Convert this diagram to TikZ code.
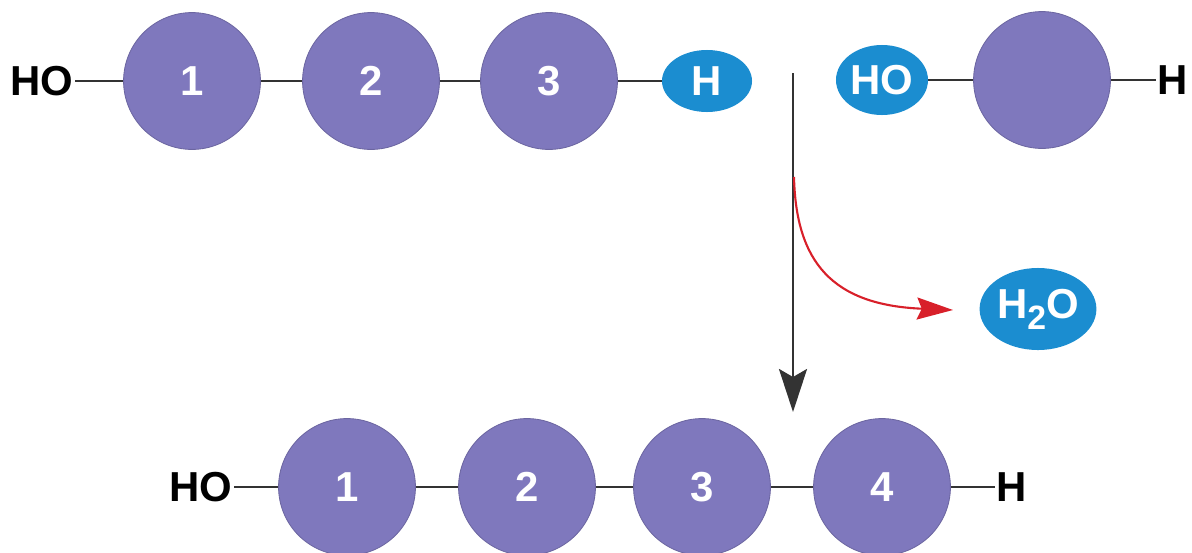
\documentclass[tikz,border=0pt]{standalone}
\usepackage{fontspec}
\setmainfont{Liberation Sans}
\usetikzlibrary{shapes.geometric,arrows.meta}
\definecolor{mono}{HTML}{7F78BD}
\definecolor{wblue}{HTML}{1B8DD0}
\definecolor{bond}{HTML}{333333}
\definecolor{redarr}{HTML}{D8202A}
\tikzset{
  lbl/.style={font=\fontsize{29.8}{30}\selectfont\bfseries, text=black, inner sep=1pt},
  monomer/.style={circle, fill=mono, draw=mono!85!black, line width=0.6pt, minimum size=3.42cm, inner sep=0pt,
     font=\fontsize{29.8}{30}\selectfont\bfseries, text=white},
  water/.style={ellipse, fill=wblue, inner sep=0pt, font=\fontsize{29.8}{30}\selectfont\bfseries, text=white},
  bondline/.style={draw=bond, line width=1.9pt},
}
\begin{document}
\begin{tikzpicture}[x=0.025cm, y=-0.025cm]
\useasboundingbox (0,0) rectangle (1192,553);
% top chain
\node[lbl] (tho) at (42,81) {HO};
\node[monomer] (t1) at (192,81) {1};
\node[monomer] (t2) at (371,81) {2};
\node[monomer] (t3) at (549,81) {3};
\node[water, minimum width=2.25cm, minimum height=1.55cm] (th) at (707,81) {H};
\draw[bondline] (tho) -- (t1);
\draw[bondline] (t1) -- (t2);
\draw[bondline] (t2) -- (t3);
\draw[bondline] (t3) -- (th);
% top right monomer
\node[water, minimum width=2.3cm, minimum height=1.75cm] (rho) at (882,80) {HO};
\node[monomer] (r1) at (1042,80) {};
\node[lbl] (rh) at (1173,80) {H};
\draw[bondline] (rho) -- (r1);
\draw[bondline] (r1) -- (rh);
% reaction arrows
\coordinate (vs) at (793,73);
\coordinate (ve) at (793,412);
\coordinate (rs) at (794,177);
\coordinate (re) at (953,310);
\draw[line width=1.7pt, draw=bond, -{Stealth[length=10.75mm, width=7mm, inset=2mm]}] (vs) -- (ve);
\draw[line width=1.5pt, draw=redarr, -{Stealth[length=9mm, width=5.5mm, inset=1.2mm]}]
   (rs) .. controls (796,262) and (832,305) .. (re);
\node[water, minimum width=2.92cm, minimum height=2.05cm] (h2o) at (1038,309)
   {H\raisebox{-0.5ex}{\fontsize{24}{24}\selectfont 2}O};
% bottom chain
\node[lbl] (bho) at (201,487) {HO};
\node[monomer] (b1) at (347,487) {1};
\node[monomer] (b2) at (527,487) {2};
\node[monomer] (b3) at (702,487) {3};
\node[monomer] (b4) at (882,487) {4};
\node[lbl] (bh) at (1012,487) {H};
\draw[bondline] (bho) -- (b1);
\draw[bondline] (b1) -- (b2);
\draw[bondline] (b2) -- (b3);
\draw[bondline] (b3) -- (b4);
\draw[bondline] (b4) -- (bh);
\end{tikzpicture}
\end{document}
